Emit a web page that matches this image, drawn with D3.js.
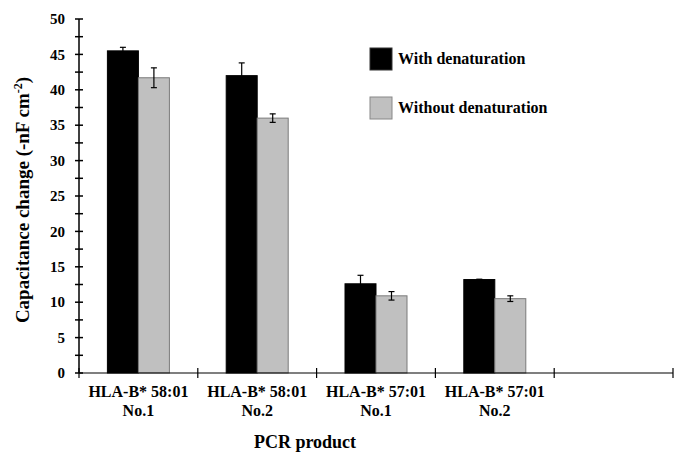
<!DOCTYPE html>
<html>
<head>
<meta charset="utf-8">
<script src="https://cdn.jsdelivr.net/npm/d3@7"></script>
<style>
  body { margin: 0; background: #fff; }
</style>
</head>
<body>
<div id="chart"></div>
<script>
// chart data
var categories = ["HLA-B* 58:01|No.1", "HLA-B* 58:01|No.2", "HLA-B* 57:01|No.1", "HLA-B* 57:01|No.2", ""];
var seriesNames = ["With denaturation", "Without denaturation"];
var withDenat = [45.5, 42.0, 12.6, 13.2];
var withDenatErr = [0.5, 1.8, 1.2, 0.05];
var withoutDenat = [41.7, 36.0, 10.9, 10.5];
var withoutDenatErr = [1.4, 0.6, 0.6, 0.4];
var yTicks = [0, 5, 10, 15, 20, 25, 30, 35, 40, 45, 50];

var FONT = "'Liberation Serif', 'Times New Roman', serif";
var svgWidth = 681, svgHeight = 455;
var margin = {top: 19, right: 8, bottom: 82, left: 79};
var width = svgWidth - margin.left - margin.right;
var height = svgHeight - margin.top - margin.bottom;

var svg = d3.select("#chart").append("svg")
    .attr("width", svgWidth)
    .attr("height", svgHeight);

var g = svg.append("g")
    .attr("transform", `translate(${margin.left}, ${margin.top})`);

var x = d3.scaleBand().domain(d3.range(categories.length)).range([0, width]).padding(0);
var y = d3.scaleLinear().domain([0, 50]).range([height, 0]);
var barW = 31;

function txt(sel, size) {
  return sel.style("font-family", FONT).style("font-weight", "bold").style("font-size", size + "px");
}

// bars
var series = [
  {vals: withDenat, errs: withDenatErr, fill: "#000", stroke: "#000", off: -barW},
  {vals: withoutDenat, errs: withoutDenatErr, fill: "#c0c0c0", stroke: "#7a7a7a", off: 0}
];

series.forEach(function(s) {
  g.selectAll(null).data(s.vals).enter().append("rect")
    .attr("x", (d, i) => x(i) + x.bandwidth() / 2 + s.off)
    .attr("y", d => y(d))
    .attr("width", barW)
    .attr("height", d => y(0) - y(d))
    .attr("fill", s.fill)
    .attr("stroke", s.stroke)
    .attr("stroke-width", 1);

  // error bars
  s.vals.forEach(function(v, i) {
    var cx = x(i) + x.bandwidth() / 2 + s.off + barW / 2;
    var top = y(v + s.errs[i]), bot = y(v - s.errs[i]);
    var eg = g.append("g").attr("stroke", "#000").attr("stroke-width", 1.2);
    eg.append("line").attr("x1", cx).attr("x2", cx).attr("y1", top).attr("y2", bot);
    eg.append("line").attr("x1", cx - 3).attr("x2", cx + 3).attr("y1", top).attr("y2", top);
    eg.append("line").attr("x1", cx - 3).attr("x2", cx + 3).attr("y1", bot).attr("y2", bot);
  });
});

// y axis, major + minor ticks crossing the line
var yAxis = g.append("g").attr("stroke", "#000").attr("stroke-width", 1.5);
yAxis.append("line").attr("x1", 0).attr("x2", 0).attr("y1", y(0)).attr("y2", y(50));
d3.range(0, 50.01, 2.5).forEach(function(t) {
  yAxis.append("line").attr("x1", -4).attr("x2", 4).attr("y1", y(t)).attr("y2", y(t));
});
txt(g.selectAll(".ytick").data(yTicks).enter().append("text"), 15)
  .attr("x", -14)
  .attr("y", d => y(d))
  .attr("dy", "0.35em")
  .attr("text-anchor", "end")
  .text(d => d);

// x axis
var xAxis = g.append("g").attr("stroke", "#000").attr("stroke-width", 1.2);
xAxis.append("line").attr("x1", 0).attr("x2", width).attr("y1", height).attr("y2", height);
d3.range(categories.length + 1).forEach(function(i) {
  var xx = i < categories.length ? x(i) : width;
  xAxis.append("line").attr("x1", xx).attr("x2", xx).attr("y1", height - 5).attr("y2", height + 5);
});
categories.forEach(function(c, i) {
  if (!c) return;
  var parts = c.split("|");
  var cx = x(i) + x.bandwidth() / 2;
  var t = txt(g.append("text"), 16)
    .attr("x", cx)
    .attr("y", height + 24)
    .attr("text-anchor", "middle");
  t.append("tspan").attr("x", cx).text(parts[0]);
  t.append("tspan").attr("x", cx).attr("dy", 19).text(parts[1]);
});

// axis titles
txt(svg.append("text"), 18)
  .attr("x", 305)
  .attr("y", 448)
  .attr("text-anchor", "middle")
  .text("PCR product");

var yt = txt(svg.append("text"), 19)
  .attr("transform", "translate(29, 200) rotate(-90)")
  .attr("text-anchor", "middle");
yt.append("tspan").text("Capacitance change (-nF cm");
yt.append("tspan").attr("dy", -7).style("font-size", "12px").text("-2");
yt.append("tspan").attr("dy", 7).text(")");

// legend
var legendFill = ["#000", "#c0c0c0"];
var legendStroke = ["#333", "#888"];
seriesNames.forEach(function(name, i) {
  var ly = 48 + i * 49;
  svg.append("rect")
    .attr("x", 370).attr("y", ly)
    .attr("width", 22).attr("height", 22)
    .attr("fill", legendFill[i])
    .attr("stroke", legendStroke[i]);
  txt(svg.append("text"), 16)
    .attr("x", 398).attr("y", ly + 16)
    .text(name);
});
</script>
</body>
</html>
